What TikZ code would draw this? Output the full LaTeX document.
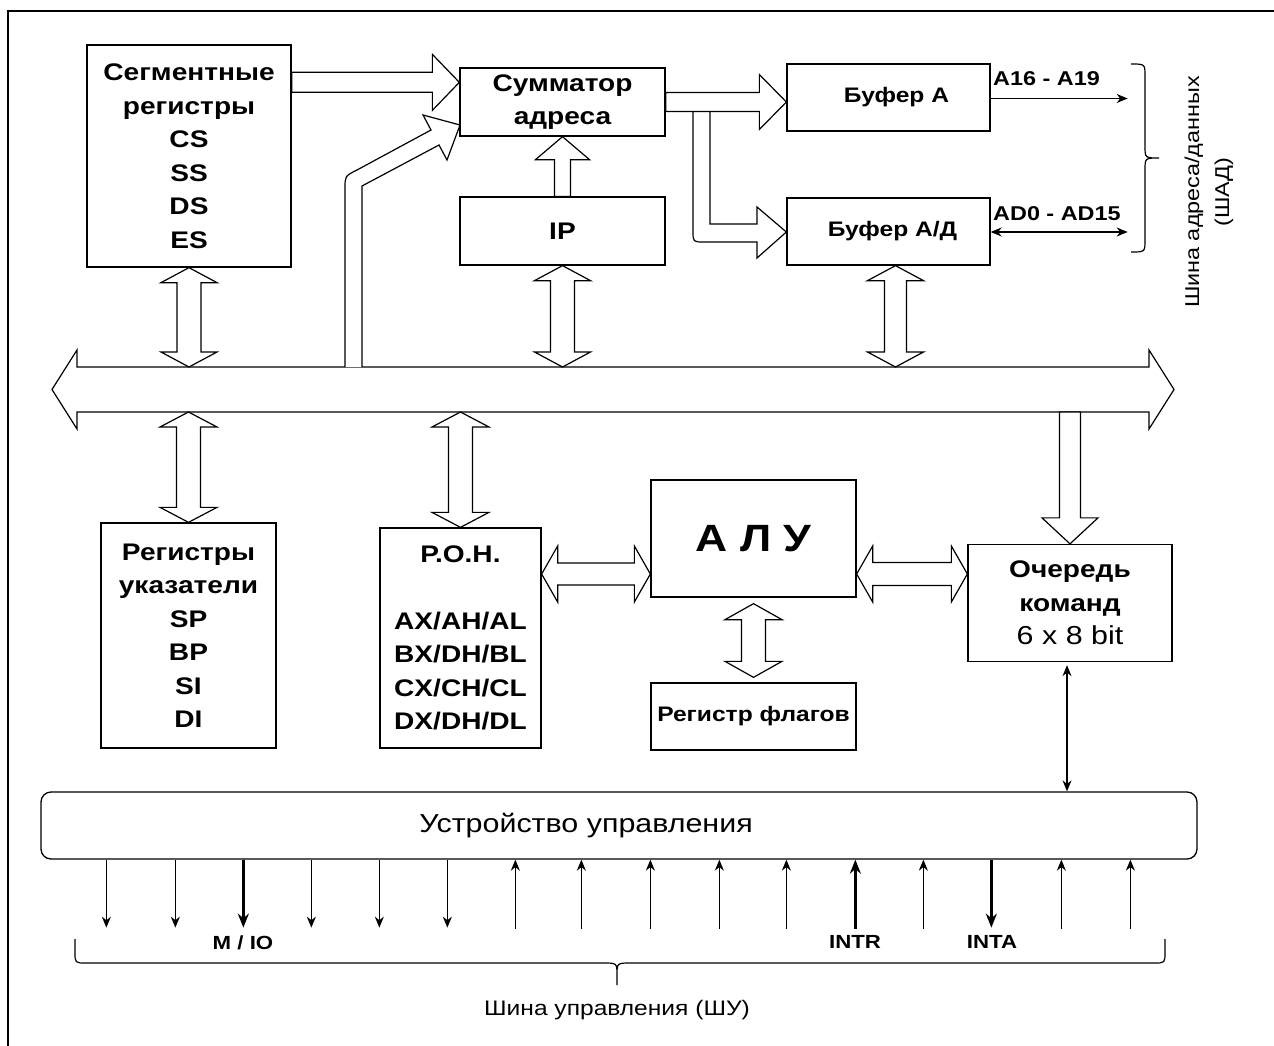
\documentclass[tikz,border=0pt]{standalone}
\usepackage{fontspec}
\setmainfont{Liberation Sans}[FakeStretch=1.17]
\usetikzlibrary{calc,arrows.meta}
\tikzset{
  blk/.style={draw, line width=1.3pt, fill=white, align=center, inner sep=0pt,
    font=\bfseries\fontsize{24}{33.5}\selectfont},
  fat/.style={draw, fill=white, line width=1.2pt, line join=miter},
  sig/.style={line width=1.3pt, -{Stealth[length=11pt,width=9pt]}},
  sigb/.style={line width=2.6pt, -{Stealth[length=14pt,width=11pt]}},
  sigd/.style={line width=1.3pt, {Stealth[length=11pt,width=9pt]}-{Stealth[length=11pt,width=9pt]}},
  brace/.style={line width=1.2pt},
  bl/.style={font=\bfseries\fontsize{19}{24}\selectfont, inner sep=0pt},
  nl/.style={font=\fontsize{21}{30}\selectfont, inner sep=0pt, align=center},
}
% fat double arrow: from #1 to #2, shaft half #3, head half #4, head length #5
\newcommand\fatdbl[5]{\draw[fat] let \p1=(#1), \p2=(#2), \n1={atan2(\y2-\y1,\x2-\x1)} in
  (\p1) -- ($(\p1)+(\n1:#5)+(\n1+90:#4)$) -- ($(\p1)+(\n1:#5)+(\n1+90:#3)$)
  -- ($(\p2)+(\n1+180:#5)+(\n1+90:#3)$) -- ($(\p2)+(\n1+180:#5)+(\n1+90:#4)$)
  -- (\p2) -- ($(\p2)+(\n1+180:#5)+(\n1-90:#4)$) -- ($(\p2)+(\n1+180:#5)+(\n1-90:#3)$)
  -- ($(\p1)+(\n1:#5)+(\n1-90:#3)$) -- ($(\p1)+(\n1:#5)+(\n1-90:#4)$) -- cycle;}
% fat single arrow: tail #1, tip #2
\newcommand\fatsgl[5]{\draw[fat] let \p1=(#1), \p2=(#2), \n1={atan2(\y2-\y1,\x2-\x1)} in
  ($(\p1)+(\n1+90:#3)$) -- ($(\p2)+(\n1+180:#5)+(\n1+90:#3)$) -- ($(\p2)+(\n1+180:#5)+(\n1+90:#4)$)
  -- (\p2) -- ($(\p2)+(\n1+180:#5)+(\n1-90:#4)$) -- ($(\p2)+(\n1+180:#5)+(\n1-90:#3)$)
  -- ($(\p1)+(\n1-90:#3)$) -- cycle;}
\begin{document}
\begin{tikzpicture}[x=1pt,y=-1pt]
\useasboundingbox (0,0) rectangle (1274,1046);
\fill[white] (0,0) rectangle (1274,1046);
\draw[line width=1.3pt] (8,11) rectangle (1300,1070);

% ---- blocks
\node[blk, minimum width=204pt, minimum height=222pt] (seg) at (189,156)
  {Сегментные\\регистры\\CS\\SS\\DS\\ES};
\node[blk, minimum width=205pt, minimum height=68pt] (summ) at (562.5,102) {Сумматор\\адреса};
\node[blk, minimum width=205pt, minimum height=68pt] (ip) at (562.5,231) {IP};
\node[blk, minimum width=203pt, minimum height=67pt, font=\bfseries\fontsize{21}{26}\selectfont] (bufA) at (888.5,97.5) {\hspace*{16pt}Буфер А};
\node[blk, minimum width=203pt, minimum height=67pt, font=\bfseries\fontsize{21}{26}\selectfont] (bufAD) at (888.5,231.5) {\hspace*{8pt}Буфер А/Д};
\node[blk, minimum width=175pt, minimum height=225pt] (ptr) at (188.5,635.5)
  {Регистры\\указатели\\SP\\BP\\SI\\DI};
\node[blk, minimum width=161pt, minimum height=220pt] (ron) at (460.5,638)
  {Р.О.Н.\\ \\AX/AH/AL\\BX/DH/BL\\CX/CH/CL\\DX/DH/DL};
\node[blk, minimum width=205pt, minimum height=117pt, font=\bfseries\fontsize{38}{44}\selectfont] (alu) at (753.5,538.5) {А Л У};
\node[blk, minimum width=205pt, minimum height=67pt, font=\bfseries\fontsize{21}{26}\selectfont] (flags) at (753.5,716.5) {Регистр флагов};
\node[blk, minimum width=204pt, minimum height=117pt] (queue) at (1070,603)
  {Очередь\\команд\\\mdseries\fontsize{26}{33.5}\selectfont 6 x 8 bit};
\node[blk, rounded corners=10pt, minimum width=1156pt, minimum height=67pt, font=\fontsize{26}{30}\selectfont] (uu) at (619,825.5) {Устройство управления\hspace*{66pt}};

% ---- internal bus
\coordinate (busL) at (52,389.5);
\coordinate (busR) at (1174,389.5);
\coordinate (bustop) at (0,367);
\coordinate (busbot) at (0,412);
\fatdbl{busL}{busR}{22.5pt}{39.5pt}{25pt}

% ---- fat arrows
\coordinate (segout) at ($(seg.north east)+(0,38)$);
\fatsgl{segout}{summ.west |- segout}{10pt}{28pt}{27pt}
\fatsgl{ip.north}{summ.south}{8pt}{27pt}{23pt}
% branch to buffer A/D
\draw[fat] (693,111) -- (693,231) .. controls (693,242) .. (704,242) -- (757,242) -- (757,258)
  -- (bufAD.west |- 0,232) -- (757,207) -- (757,224) -- (710,224) -- (710,111);
\fatsgl{summ.east}{bufA.west |- summ.east}{9.5pt}{27.5pt}{27pt}
% bent arrow from bus to summator
\draw[fat] (345,367) -- (345,188) .. controls (345,176) .. (357,170) -- (431,130) -- (423,115)
  -- (460,125) -- (447,160) -- (439,145) -- (362,186) -- (362,367);

\fatdbl{seg.south}{seg.south |- bustop}{12pt}{28pt}{15pt}
\fatdbl{ip.south}{ip.south |- bustop}{12pt}{28pt}{15pt}
\coordinate (bdx) at ($(bufAD.south)+(7,0)$);
\fatdbl{bdx}{bdx |- bustop}{11pt}{28pt}{15pt}
\fatdbl{ptr.north |- busbot}{ptr.north}{12pt}{28.5pt}{15pt}
\fatdbl{ron.north |- busbot}{ron.north}{12pt}{28.5pt}{15pt}
\coordinate (ra) at (0,574);
\fatdbl{ron.east |- ra}{alu.west |- ra}{11pt}{28pt}{16pt}
\fatdbl{alu.east |- ra}{queue.west |- ra}{11.5pt}{28pt}{16pt}
\coordinate (af1) at ($(alu.south)+(0,6)$);
\coordinate (af2) at ($(flags.north)+(0,-5)$);
\fatdbl{af1}{af2}{12pt}{28.5pt}{16pt}
\fatsgl{queue.north |- busbot}{queue.north}{10.5pt}{28pt}{26pt}

% ---- queue <-> control unit
\coordinate (q1) at ($(queue.south)+(-3,3)$);
\draw[sigd] (q1) -- (q1 |- uu.north);

% ---- address/data bus outputs
\coordinate (a16) at ($(bufA.east)+(0,1)$);
\coordinate (ad0) at ($(bufAD.east)+(0,0.5)$);
\draw[sig] (a16) -- ++(137,0);
\draw[sigd] (ad0) -- ++(137,0);
\node[bl, anchor=west, font=\bfseries\fontsize{20}{24}\selectfont] (la16) at (993,79) {A16 - A19};
\node[bl, anchor=west, font=\bfseries\fontsize{20}{24}\selectfont] (lad0) at (993,214) {AD0 - AD15};
\draw[brace] (1131,64) .. controls (1145,64) .. (1145,76) -- (1145,146) .. controls (1145,158) .. (1159,158)
  .. controls (1145,158) .. (1145,170) -- (1145,240) .. controls (1145,252) .. (1131,252);
\node[nl, rotate=90, font=\fontsize{20}{30}\selectfont] (shad) at (1209,192) {Шина адреса/данных\\(ШАД)};

% ---- control bus signals
\foreach \x in {107,176,312,380,448}
  \draw[sig] ($(uu.south west)+(\x-41,0)$) -- ++(0,68);
\foreach \x in {516,582,651,720,787,924,1062,1131}
  \draw[sig] ($(uu.south west)+(\x-41,69)$) -- ++(0,-69);
\draw[sigb] ($(uu.south west)+(244-41,0)$) -- ++(0,68);
\draw[sigb] ($(uu.south west)+(856-41,69)$) -- ++(0,-69);
\draw[sigb] ($(uu.south west)+(992-41,0)$) -- ++(0,68);
\node[bl] (lmio) at (243,943) {M / IO};
\node[bl] (lintr) at (855,942) {INTR};
\node[bl] (linta) at (992,942) {INTA};
\draw[brace] (75,939) -- (75,952) .. controls (75,963) .. (86,963) -- (603,963) .. controls (617,963) .. (617,975) -- (617,985)
  (617,975) .. controls (617,963) .. (631,963) -- (1154,963) .. controls (1165,963) .. (1165,952) -- (1165,939);
\node[nl] (shu) at (617,1010) {Шина управления (ШУ)};
\end{tikzpicture}
\end{document}
